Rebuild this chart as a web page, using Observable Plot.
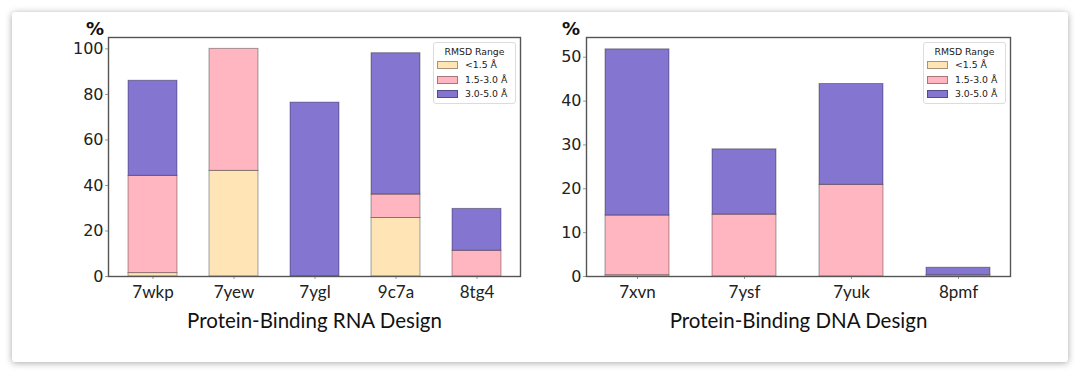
<!DOCTYPE html>
<html>
<head>
<meta charset="utf-8">
<script src="https://cdn.jsdelivr.net/npm/d3@7"></script>
<script src="https://cdn.jsdelivr.net/npm/@observablehq/plot@0.6"></script>
<style>
  html, body { margin: 0; padding: 0; background: #fff; width: 1080px; height: 375px; overflow: hidden; }
  #card { position: absolute; left: 12px; top: 12px; width: 1056px; height: 350px; background: #fff;
          box-shadow: 0 1px 7px rgba(0,0,0,0.35); border-radius: 3px; }
  .panel { position: absolute; }
  .panel svg { overflow: visible; }
  g[aria-label$="axis tick"] { stroke: #999; }
  g[aria-label="y-axis tick label"] { fill: #222; font-family: "DejaVu Sans", sans-serif; font-size: 16px; }
  g[aria-label="x-axis tick label"] { fill: #222; font-family: Lato, sans-serif; font-size: 17px; }
  .pct { position: absolute; font-family: "DejaVu Sans", sans-serif; font-weight: bold; font-size: 18px; color: #111; line-height: 1; }
  .legend { position: absolute; width: 81px; height: 60px; border: 1px solid #dcdcdc; border-radius: 3px; background: rgba(255,255,255,0.8);
            font-family: "DejaVu Sans", sans-serif; font-size: 9.3px; color: #222; }
  .legend .ttl { position: absolute; left: 0; width: 100%; text-align: center; top: 3px; }
  .legend .sw { position: absolute; left: 3px; width: 19px; height: 6px; border: 1px solid rgba(0,0,0,0.35); }
  .legend .lb { position: absolute; left: 31px; line-height: 1; }
</style>
</head>
<body>
<div id="card"></div>
<div id="root"></div>
<script>
// ---- data ----
const ranges = ["<1.5 Å", "1.5-3.0 Å", "3.0-5.0 Å"];
const rangeColors = ["#FFE4B5", "#FFB6C1", "#8375D0"];

const rnaCategories = ["7wkp", "7yew", "7ygl", "9c7a", "8tg4"];
const rnaLow  = [1.5, 46.4, 0, 25.7, 0];
const rnaMid  = [42.7, 53.6, 0, 10.3, 11.3];
const rnaHigh = [41.8, 0, 76.4, 62.1, 18.4];
const rnaTicks = [0, 20, 40, 60, 80, 100];

const dnaCategories = ["7xvn", "7ysf", "7yuk", "8pmf"];
const dnaLow  = [0.3, 0, 0, 0];
const dnaMid  = [13.6, 14.1, 20.9, 0.3];
const dnaHigh = [37.9, 14.9, 23.0, 1.7];
const dnaTicks = [0, 10, 20, 30, 40, 50];

function tidy(cats, low, mid, high) {
  const rows = [];
  [low, mid, high].forEach((vals, k) => {
    cats.forEach((c, i) => rows.push({cat: c, range: ranges[k], value: vals[i]}));
  });
  return rows;
}

function panel({cats, rows, ticks, ymax, label, left, width, marginLeft, paddingOuter}) {
  const plot = Plot.plot({
    width, height: 330,
    marginLeft, marginRight: 10, marginTop: 17, marginBottom: 74,
    style: {background: "transparent", overflow: "visible"},
    x: {domain: cats, paddingInner: 0.4, paddingOuter, label: null},
    y: {domain: [0, ymax], label: null},
    color: {domain: ranges, range: rangeColors},
    marks: [
      Plot.barY(rows, {x: "cat", y: "value", fill: "range", stroke: "#000", strokeOpacity: 0.35, strokeWidth: 1}),
      Plot.axisY({ticks, tickSize: 3, tickPadding: 2, label: null}),
      Plot.axisX({tickSize: 3, tickPadding: 6, label: null}),
      Plot.frame({stroke: "#555", strokeWidth: 1.4}),
      Plot.text([label], {frameAnchor: "bottom", dy: 51, lineAnchor: "bottom", text: d => d,
        fontFamily: "Lato, sans-serif", fontSize: 20.5, fill: "#111"})
    ]
  });
  const wrap = document.createElement("div");
  wrap.className = "panel";
  wrap.style.left = left + "px";
  wrap.style.top = "20px";
  wrap.appendChild(plot);
  document.getElementById("root").appendChild(wrap);
}

function legend(left) {
  const lg = document.createElement("div");
  lg.className = "legend";
  lg.style.left = left + "px";
  lg.style.top = "42px";
  let html = '<div class="ttl">RMSD Range</div>';
  ranges.forEach((r, i) => {
    const cy = 22 + i * 14.5;
    html += `<div class="sw" style="top:${cy - 4}px;background:${rangeColors[i]}"></div>`;
    html += `<div class="lb" style="top:${cy - 5}px">${r}</div>`;
  });
  lg.innerHTML = html;
  document.getElementById("root").appendChild(lg);
}

function pct(left) {
  const d = document.createElement("div");
  d.className = "pct";
  d.style.left = left + "px";
  d.style.top = "20px";
  d.textContent = "%";
  document.getElementById("root").appendChild(d);
}

panel({cats: rnaCategories, rows: tidy(rnaCategories, rnaLow, rnaMid, rnaHigh), ticks: rnaTicks, ymax: 105,
       label: "Protein-Binding RNA Design", left: 20, width: 510, marginLeft: 88, paddingOuter: 0.225});
panel({cats: dnaCategories, rows: tidy(dnaCategories, dnaLow, dnaMid, dnaHigh), ticks: dnaTicks, ymax: 54.5,
       label: "Protein-Binding DNA Design", left: 540, width: 480, marginLeft: 46, paddingOuter: 0.178});
legend(433);
legend(923);
pct(86);
pct(562);
</script>
</body>
</html>
